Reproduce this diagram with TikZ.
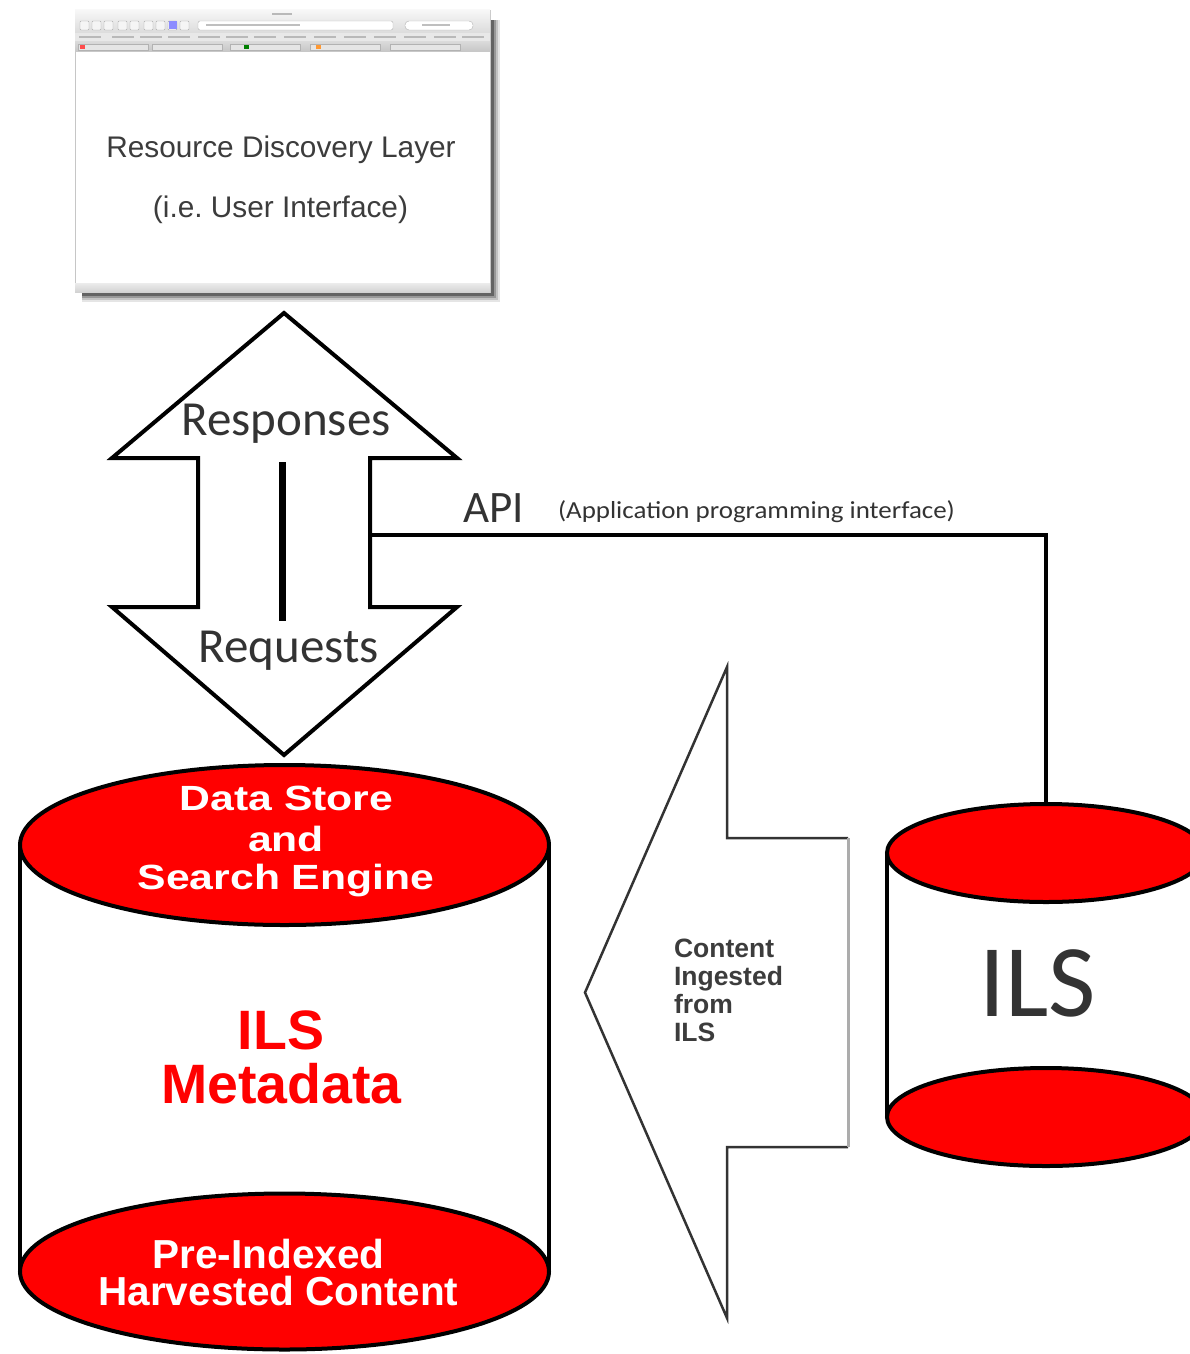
\documentclass[tikz,border=0pt]{standalone}
\usepackage{fontspec}
\setmainfont{Liberation Sans}
\newfontfamily\calibri{Carlito}
\newfontfamily\calibriwide{Carlito}[FakeStretch=1.1]
\newfontfamily\widesans{Liberation Sans}[FakeStretch=1.22]
\usetikzlibrary{shapes.geometric}
\definecolor{dbred}{HTML}{FF0000}
\definecolor{ink}{HTML}{333333}
\definecolor{uigray}{HTML}{3C3C3C}
\tikzset{
  lbl/.style={inner sep=0, outer sep=0, anchor=base},
  disc/.style={ellipse, draw=black, line width=4, fill=dbred, inner sep=0, outer sep=0},
  heavy/.style={line width=4, draw=black},
  thinarrow/.style={line width=2.5, draw=ink},
}
\begin{document}
\begin{tikzpicture}[x=1pt,y=-1pt]
\useasboundingbox (0,0) rectangle (1190,1354);
\clip (0,0) rectangle (1190,1354);

% ---------- browser window ----------
\fill[black,opacity=.10] (82,20) rectangle (500,302);
\fill[black,opacity=.15] (82,20) rectangle (498,300);
\fill[black,opacity=.22] (82,20) rectangle (496,298);
\fill[black,opacity=.35] (82,20) rectangle (494,296);
\node[draw=gray!45, fill=white, line width=.8, minimum width=415, minimum height=282,
      anchor=north west, inner sep=0, outer sep=0] (browser) at (75,10) {};
\shade[top color=gray!6, bottom color=gray!28] (75,10) rectangle (490,33);
\fill[gray!18] (75,33) rectangle (490,42);
\shade[top color=gray!30, bottom color=gray!45] (75,42) rectangle (490,52);
\fill[gray!55] (272,13) rectangle (292,15);
\foreach \x in {80,92,104,118,130,144,156,168,180}
  \draw[gray!65, fill=gray!8, rounded corners=1] (\x,21) rectangle ++(9,9);
\fill[blue!45] (168.5,21.5) rectangle (176.5,29.5);
\draw[gray!60, fill=white, rounded corners=2] (198,21) rectangle (393,30);
\fill[gray!50] (206,24.5) rectangle (300,26.5);
\draw[gray!60, fill=white, rounded corners=4] (405,21) rectangle (473,30);
\fill[gray!50] (422,24.5) rectangle (450,26.5);
\foreach \x in {79,112,140,168,198,226,254,284,314,344,374,404,434,462}
  \fill[gray!55] (\x,36.5) rectangle ++(22,2);
\foreach \x in {78,152,230,310,390}
  \draw[gray!60, fill=gray!20] (\x,44) rectangle ++(70,6);
\fill[red!70] (80,45) rectangle (85,49);
\fill[orange!80] (316,45) rectangle (321,49);
\fill[green!50!black] (244,45) rectangle (249,49);
\shade[top color=gray!15, bottom color=gray!35] (75,283) rectangle (490,292);
\node[lbl, text=uigray, font=\fontsize{29.8}{30}\selectfont] (rdl) at (281,157) {Resource Discovery Layer};
\node[lbl, text=uigray, font=\fontsize{29.8}{30}\selectfont] (ui) at (280.5,217) {(i.e.\ User Interface)};

% ---------- double arrow ----------
\coordinate (upTip) at (284,313);
\coordinate (dnTip) at (284,755);
\coordinate (shaftR) at (370,535);
\draw[heavy, fill=white, line join=miter] (upTip) -- (457,458) -- (370,458) -- (370,607) -- (457,607)
  -- (dnTip) -- (112,607) -- (198,607) -- (198,458) -- (112,458) -- cycle;
\draw[line width=7] (282,462) -- (282,621);
\node[lbl, text=ink, font=\calibri\fontsize{49}{49}\selectfont] (resp) at (286,435) {Responses};
\node[lbl, text=ink, font=\calibri\fontsize{49}{49}\selectfont] (req) at (288.5,662) {Requests};

% ---------- API ----------
\node[lbl, anchor=base west, text=ink, font=\calibri\fontsize{45}{45}\selectfont] (api) at (463,522) {API};
\node[lbl, anchor=base west, text=ink, font=\calibriwide\fontsize{24.5}{24.5}\selectfont] (apidesc) at (558,518) {(Application programming interface)};

% ---------- ILS cylinder (right) ----------
\fill[white] (887,853) rectangle (1205,1117);
\draw[heavy] (887,853) -- (887,1117);
\node[disc, minimum width=318, minimum height=98] (ilsBot) at (1046,1117) {};
\node[disc, minimum width=318, minimum height=98] (ilsTop) at (1046,853) {};
\node[lbl, text=ink, font=\calibri\fontsize{103}{103}\selectfont] (ilsLbl) at (1037.5,1016) {ILS};

% ---------- API connector ----------
\draw[heavy] (shaftR) -| (ilsTop.north);

% ---------- content arrow ----------
\coordinate (cTip) at (585,992.5);
\fill[white] (cTip) -- (727,667) -- (727,838) -- (848,838) -- (848,1147) -- (727,1147) -- (727,1318) -- cycle;
\draw[thinarrow, line join=miter] (848,838) -- (727,838) -- (727,667) -- (cTip) -- (727,1318) -- (727,1147) -- (848,1147);
\draw[line width=3, draw=gray!65] (848,838) -- (848,1147);
\node[lbl, anchor=base west, text=uigray, font=\bfseries\fontsize{26.5}{28}\selectfont] (c1) at (674,957) {Content};
\node[lbl, anchor=base west, text=uigray, font=\bfseries\fontsize{26.5}{28}\selectfont] (c2) at (674,985) {Ingested};
\node[lbl, anchor=base west, text=uigray, font=\bfseries\fontsize{26.5}{28}\selectfont] (c3) at (674,1013) {from};
\node[lbl, anchor=base west, text=uigray, font=\bfseries\fontsize{26.5}{28}\selectfont] (c4) at (674,1041) {ILS};

% ---------- data store cylinder (left) ----------
\fill[white] (20,845) rectangle (549,1272);
\draw[heavy] (20,845) -- (20,1272);
\draw[heavy] (549,845) -- (549,1272);
\node[disc, minimum width=529, minimum height=156] (dsBot) at (284.5,1271.5) {};
\node[disc, minimum width=529, minimum height=160] (dsTop) at (284.5,845) {};
\node[lbl, text=white, font=\widesans\bfseries\fontsize{35}{35}\selectfont] (ds1) at (286.5,810) {Data Store};
\node[lbl, text=white, font=\widesans\bfseries\fontsize{35}{35}\selectfont] (ds2) at (286,851) {and};
\node[lbl, text=white, font=\widesans\bfseries\fontsize{35}{35}\selectfont] (ds3) at (286,889) {Search Engine};
\node[lbl, text=dbred, font=\bfseries\fontsize{55.5}{55.5}\selectfont] (m1) at (281,1049) {ILS};
\node[lbl, text=dbred, font=\bfseries\fontsize{55.5}{55.5}\selectfont] (m2) at (281.5,1103) {Metadata};
\node[lbl, text=white, font=\bfseries\fontsize{40.5}{40.5}\selectfont] (p1) at (268.5,1268) {Pre-Indexed};
\node[lbl, text=white, font=\bfseries\fontsize{40.5}{40.5}\selectfont] (p2) at (278.5,1305) {Harvested Content};
\end{tikzpicture}
\end{document}
